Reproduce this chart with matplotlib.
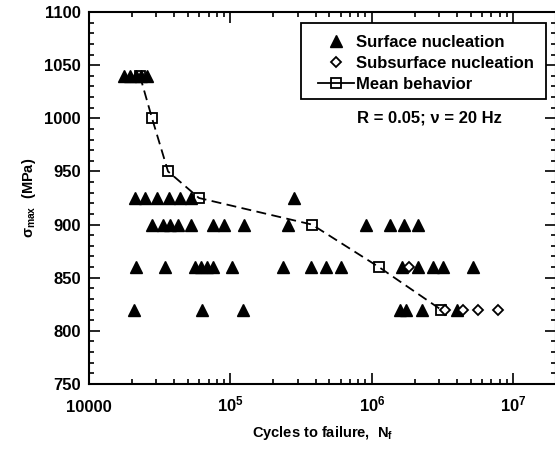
import matplotlib
matplotlib.use('Agg')
import matplotlib.pyplot as plt
from matplotlib.lines import Line2D
from matplotlib.patches import Rectangle
from matplotlib.ticker import LogLocator, MultipleLocator, NullFormatter

plt.rcParams['font.family'] = ['Liberation Sans', 'DejaVu Sans']
plt.rcParams['font.weight'] = 'bold'
plt.rcParams['axes.labelweight'] = 'bold'
plt.rcParams['mathtext.fontset'] = 'custom'
plt.rcParams['mathtext.rm'] = 'Liberation Sans:bold'
plt.rcParams['mathtext.bf'] = 'Liberation Sans:bold'
plt.rcParams['mathtext.default'] = 'bf'

# surface nucleation (triangles), cycles and stress
surf_n = [17700, 19500, 21500, 23300, 25700,
          21100, 24900, 30200, 36800, 44000, 52600, 281000,
          27900, 33300, 37400, 42600, 52600, 75200, 90000, 124600, 254900,
          907000, 1341000, 1683000, 2114000,
          21500, 34400, 56100, 61900, 68200, 75200, 102500, 235000,
          370600, 473100, 603900, 1629000, 2114000, 2698000, 3176000, 5174000,
          20800, 62900, 122600, 1577000, 1739000, 2256000, 3988000]
surf_s = [1040] * 5 + [925] * 7 + [900] * 13 + [860] * 16 + [820] * 7

# subsurface nucleation (diamonds)
sub_n = [1826000, 3281000, 4397000, 5614000, 7770000]
sub_s = [860, 820, 820, 820, 820]

# mean behavior
mean_n = [22900, 27900, 36200, 59900, 376700, 1121000, 3073000]
mean_s = [1040, 1000, 950, 925, 900, 860, 820]

xtick_vals = [1e4, 1e5, 1e6, 1e7]
xtick_labels = ['10000', r'$10^5$', r'$10^6$', r'$10^7$']

fig = plt.figure(figsize=(5.55, 4.5), dpi=100)
ax = fig.add_axes([89 / 555, 1 - 384 / 450, 467 / 555, 372 / 450])

ax.plot(surf_n, surf_s, ls='none', marker='^', ms=8, color='black', zorder=3)
ax.plot(mean_n, mean_s, ls=(0, (5.5, 3)), lw=1.3, color='black',
        marker='s', ms=7.5, mfc='none', mec='black', mew=1.3, zorder=4)
ax.plot(sub_n, sub_s, ls='none', marker='D', ms=5.4, mfc='white', mec='black',
        mew=1.3, zorder=5)

ax.set_xscale('log')
ax.set_xlim(1e4, 2e7)
ax.set_ylim(750, 1100)

ax.set_xticks(xtick_vals, xtick_labels)
ax.xaxis.set_minor_locator(LogLocator(base=10, subs=range(2, 10), numticks=20))
ax.xaxis.set_minor_formatter(NullFormatter())
ax.yaxis.set_major_locator(MultipleLocator(50))
ax.yaxis.set_minor_locator(MultipleLocator(10))

ax.tick_params(which='both', direction='in', top=True, right=True, width=1.2,
               labelsize=12)
ax.tick_params(which='major', length=8)
ax.tick_params(which='minor', length=3.5)
ax.tick_params(axis='x', pad=20)
ax.tick_params(axis='y', pad=6)
for lab in ax.get_xticklabels():
    lab.set_va('baseline')
for s in ax.spines.values():
    s.set_linewidth(1.5)

ax.set_xlabel('Cycles to failure,  N$_\\mathregular{f}$', fontsize=10.5,
              fontweight='bold')
ax.xaxis.label.set_va('baseline')
ax.xaxis.set_label_coords(0.5, -0.142)
ax.set_ylabel('σ$_{\\mathregular{max}}$  (MPa)', fontsize=10.5, fontweight='bold',
              labelpad=4)

# legend frame drawn by hand so the left padding matches
ax.add_patch(Rectangle((0.454, 0.766), 0.5246, 0.2044, transform=ax.transAxes,
                       facecolor='white', edgecolor='black', lw=1.3, zorder=6))
handles = [
    Line2D([], [], ls='none', marker='^', ms=8, color='black'),
    Line2D([], [], ls='none', marker='D', ms=5.4, mfc='white', mec='black', mew=1.3),
    Line2D([], [], ls='-', lw=1.3, color='black', marker='s', ms=7.5, mfc='none',
           mec='black', mew=1.3),
]
labels = ['Surface nucleation', 'Subsurface nucleation', 'Mean behavior']
leg = ax.legend(handles, labels, loc='upper left', bbox_to_anchor=(0.490, 0.939),
                prop={'size': 12, 'weight': 'bold'}, frameon=False,
                handlelength=2.2, handletextpad=0.12, labelspacing=0.36,
                borderpad=0, borderaxespad=0)
leg.set_zorder(7)
for t in leg.get_texts():
    t.set_fontweight('bold')

ax.text(0.574, 0.715, 'R = 0.05; ν = 20 Hz', transform=ax.transAxes, fontsize=12,
        fontweight='bold', ha='left', va='center')

fig.savefig('out.png', dpi=100)
